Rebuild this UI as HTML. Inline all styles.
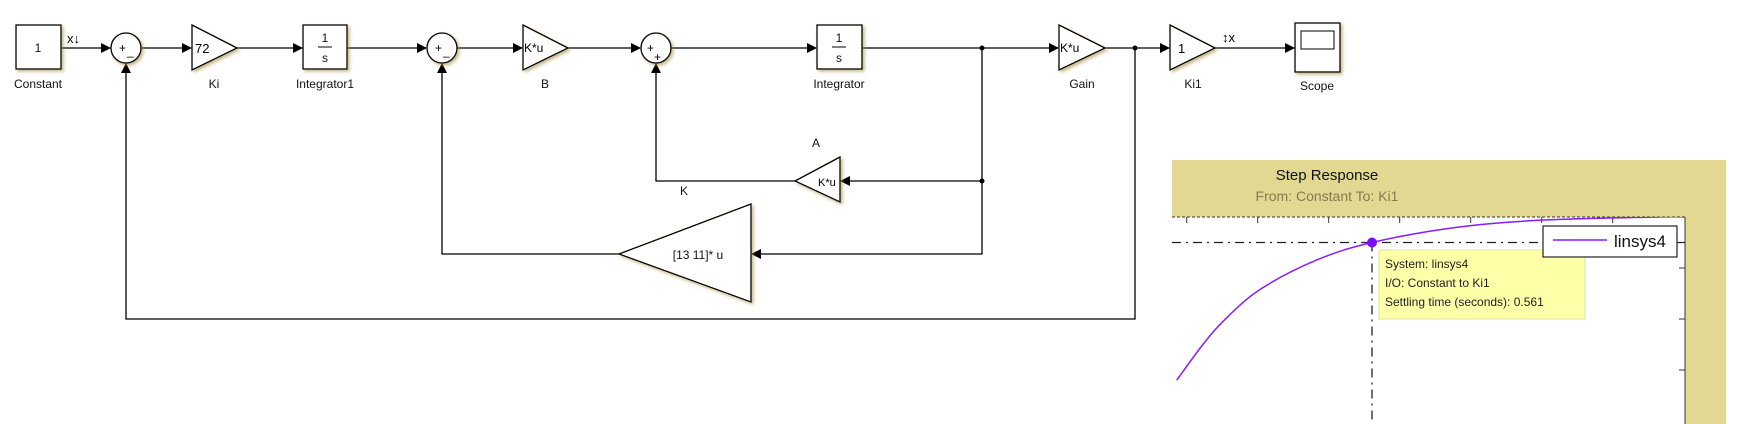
<!DOCTYPE html>
<html><head><meta charset="utf-8"><style>
html,body{margin:0;padding:0;background:#fff;width:1743px;height:424px;overflow:hidden}
svg{display:block}
text{font-family:"Liberation Sans",sans-serif}
.blk{fill:#fff;stroke:#000;stroke-width:1.3;filter:url(#sh)}
.ln{stroke:#000;stroke-width:1.3;fill:none}
.lbl{font-size:12px;text-anchor:middle;fill:#111}
</style></head><body>
<svg width="1743" height="424" viewBox="0 0 1743 424">
<defs>
<filter id="sh" x="-20%" y="-20%" width="150%" height="150%"><feDropShadow dx="2" dy="2" stdDeviation="1.6" flood-color="#a08a3c" flood-opacity="0.6"/></filter>
<marker id="ar" markerWidth="10" markerHeight="10" refX="9" refY="5" orient="auto" markerUnits="userSpaceOnUse"><path d="M0,0 L10,5 L0,10 z" fill="#000"/></marker>
<clipPath id="pc"><rect x="1172" y="217" width="513" height="207"/></clipPath>
</defs>
<g>
<line class="ln" x1="61" y1="48" x2="110" y2="48" marker-end="url(#ar)"/>
<line class="ln" x1="141" y1="48" x2="191" y2="48" marker-end="url(#ar)"/>
<line class="ln" x1="237" y1="48" x2="302" y2="48" marker-end="url(#ar)"/>
<line class="ln" x1="347" y1="48" x2="426" y2="48" marker-end="url(#ar)"/>
<line class="ln" x1="457" y1="48" x2="522" y2="48" marker-end="url(#ar)"/>
<line class="ln" x1="568" y1="48" x2="640" y2="48" marker-end="url(#ar)"/>
<line class="ln" x1="671" y1="48" x2="816" y2="48" marker-end="url(#ar)"/>
<line class="ln" x1="862" y1="48" x2="1058" y2="48" marker-end="url(#ar)"/>
<line class="ln" x1="1105" y1="48" x2="1169" y2="48" marker-end="url(#ar)"/>
<line class="ln" x1="1215" y1="48" x2="1294" y2="48" marker-end="url(#ar)"/>
<polyline class="ln" points="982,48 982,181 841,181" marker-end="url(#ar)"/>
<polyline class="ln" points="795,181 656,181 656,64" marker-end="url(#ar)"/>
<polyline class="ln" points="982,181 982,254 752,254" marker-end="url(#ar)"/>
<polyline class="ln" points="619,254 442,254 442,64" marker-end="url(#ar)"/>
<polyline class="ln" points="1135,48 1135,319 126,319 126,64" marker-end="url(#ar)"/>
<circle cx="982" cy="48" r="2.5"/><circle cx="982" cy="181" r="2.5"/><circle cx="1135" cy="48" r="2.5"/>
</g>
<g><rect class="blk" x="16" y="25" width="45" height="44"/><text x="38" y="52" class="lbl">1</text><text x="38" y="88" class="lbl">Constant</text></g>
<text x="67" y="43" font-size="13">x↓</text>
<g><circle class="blk" cx="126" cy="48" r="15"/><text x="119" y="52" font-size="12">+</text><text x="127" y="55" font-size="12">_</text></g>
<g><polygon class="blk" points="192,25 237,48 192,70"/><text x="195" y="53" font-size="13">72</text><text x="214" y="88" class="lbl">Ki</text></g>
<g><rect class="blk" x="303" y="25" width="44" height="44"/><text x="325" y="42" class="lbl">1</text><line x1="318" y1="47" x2="332" y2="47" stroke="#000"/><text x="325" y="62" class="lbl">s</text><text x="325" y="88" class="lbl">Integrator1</text></g>
<g><circle class="blk" cx="442" cy="48" r="15"/><text x="435" y="52" font-size="12">+</text><text x="443" y="55" font-size="12">_</text></g>
<g><polygon class="blk" points="523,25 568,48 523,70"/><text x="524" y="52" font-size="12">K*u</text><text x="545" y="88" class="lbl">B</text></g>
<g><circle class="blk" cx="656" cy="48" r="15"/><text x="647" y="52" font-size="12">+</text><text x="654" y="61" font-size="12">+</text></g>
<g><rect class="blk" x="817" y="25" width="45" height="44"/><text x="839" y="42" class="lbl">1</text><line x1="832" y1="47" x2="846" y2="47" stroke="#000"/><text x="839" y="62" class="lbl">s</text><text x="839" y="88" class="lbl">Integrator</text></g>
<g><polygon class="blk" points="1059,25 1105,48 1059,70"/><text x="1060" y="52" font-size="12">K*u</text><text x="1082" y="88" class="lbl">Gain</text></g>
<g><polygon class="blk" points="1170,25 1215,48 1170,70"/><text x="1178" y="53" font-size="13">1</text><text x="1193" y="88" class="lbl">Ki1</text></g>
<text x="1222" y="42" font-size="13">↕x</text>
<g><rect class="blk" x="1295" y="23" width="45" height="49"/><rect x="1301" y="31" width="33" height="18" fill="#fff" stroke="#000"/><text x="1317" y="90" class="lbl">Scope</text></g>
<g><polygon class="blk" points="840,157 795,181 840,202"/><text x="818" y="186" font-size="11">K*u</text><text x="816" y="147" class="lbl">A</text></g>
<text x="684" y="195" class="lbl">K</text>
<g><polygon class="blk" points="751,204 619,254 751,302"/><text x="698" y="259" class="lbl">[13 11]* u</text></g>

<g>
<rect x="1172" y="160" width="554" height="264" fill="#e3d891"/>
<rect x="1172" y="217" width="513" height="207" fill="#fff"/>
<line x1="1685" y1="217" x2="1685" y2="424" stroke="#333" stroke-width="1"/>
<line x1="1172" y1="217" x2="1685" y2="217" stroke="#333" stroke-width="1" stroke-dasharray="3,2"/>
<text x="1327" y="180" font-size="15" text-anchor="middle" fill="#111">Step Response</text>
<text x="1327" y="201" font-size="14" text-anchor="middle" fill="#857a50">From: Constant  To: Ki1</text>
<g id="axes"></g>
<g id="marks" clip-path="url(#pc)"></g>
<g>
<rect x="1379" y="250" width="206" height="69" fill="#ffffa8" stroke="#e4e0a0"/>
<text x="1385" y="268" font-size="12" fill="#222">System: linsys4</text>
<text x="1385" y="287" font-size="12" fill="#222">I/O: Constant to Ki1</text>
<text x="1385" y="306" font-size="12" fill="#222">Settling time (seconds): 0.561</text>
</g>
<g>
<rect x="1543" y="226" width="134" height="31" fill="#fff" stroke="#222" stroke-width="1.2"/>
<line x1="1553" y1="240" x2="1607" y2="240" stroke="#8a1aff" stroke-width="1.5"/>
<text x="1614" y="247" font-size="17" fill="#111">linsys4</text>
</g>
</g>
</svg>
<script>
const timeVals=[0.286,0.3215,0.351,0.403,0.482,0.561,0.681,0.802,0.964,1.002];
const respVals=[0.872,0.899,0.918,0.943,0.966,0.980,0.992,0.9976,1.0,1.0];
const xTicks=[0.3,0.4,0.5,0.6,0.7,0.8,0.9];
const yTicks=[0.96,0.92,0.88];
const settleTime=[0.561];
const settleLevel=[0.98];
const NS='http://www.w3.org/2000/svg';
function xs(t){return 1372+(t-0.561)*710;}
function ys(v){return 217+(1.0-v)*1275;}
function mk(tag,at,parent){const e=document.createElementNS(NS,tag);for(const k in at)e.setAttribute(k,at[k]);parent.appendChild(e);return e;}
const ax=document.getElementById('axes'),mg=document.getElementById('marks');
xTicks.forEach(t=>{const l=mk('line',{x1:xs(t),y1:217,x2:xs(t),y2:223,stroke:'#333'},ax);

});
yTicks.forEach(v=>{const l=mk('line',{x1:1679,y1:ys(v),x2:1685,y2:ys(v),stroke:'#333'},ax);

});
const hl=mk('line',{x1:1172,y1:ys(settleLevel[0]),x2:1685,y2:ys(settleLevel[0]),stroke:'#222','stroke-width':1.3,'stroke-dasharray':'9,5,2,5'},mg);


const vl=mk('line',{x1:xs(settleTime[0]),y1:ys(settleLevel[0]),x2:xs(settleTime[0]),y2:424,stroke:'#222','stroke-width':1.3,'stroke-dasharray':'9,5,2,5'},mg);


const P=timeVals.map((t,i)=>[xs(t),ys(respVals[i])]);
let d='M'+P[0][0]+','+P[0][1];
for(let i=0;i<P.length-1;i++){const p0=P[i-1]||P[i],p1=P[i],p2=P[i+1],p3=P[i+2]||p2;
d+=' C'+(p1[0]+(p2[0]-p0[0])/6)+','+(p1[1]+(p2[1]-p0[1])/6)+' '+(p2[0]-(p3[0]-p1[0])/6)+','+(p2[1]-(p3[1]-p1[1])/6)+' '+p2[0]+','+p2[1];}
const pl=mk('path',{d:d,fill:'none',stroke:'#8a1aff','stroke-width':1.5},mg);


const dot=mk('circle',{cx:xs(settleTime[0]),cy:ys(settleLevel[0]),r:5,fill:'#7a10ff'},document.querySelector('svg'));


</script>
</body></html>
